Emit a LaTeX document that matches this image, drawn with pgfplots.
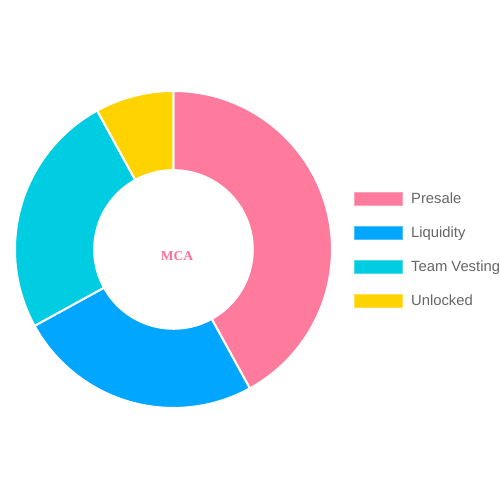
\documentclass[border=0pt]{standalone}
\usepackage{pgfplots}
\pgfplotsset{compat=1.18}
\usepackage{pgfplotstable}
\usepgfplotslibrary{fillbetween}
\usepackage{fontspec}
\setmainfont{Liberation Serif}
\newfontfamily\legfont{Liberation Sans}
\definecolor{cPre}{HTML}{FF7B9E}
\definecolor{cLiq}{HTML}{00A6FF}
\definecolor{cTeam}{HTML}{00CDE1}
\definecolor{cUnl}{HTML}{FFD300}
\definecolor{cMCA}{HTML}{FF7096}
\definecolor{cLeg}{HTML}{666666}

\pgfplotstableread{
label value
Presale 42
Liquidity 25
TeamVesting 25
Unlocked 8
}\piedata
\pgfplotstablegetelem{0}{value}\of\piedata \let\vA\pgfplotsretval
\pgfplotstablegetelem{1}{value}\of\piedata \let\vB\pgfplotsretval
\pgfplotstablegetelem{2}{value}\of\piedata \let\vC\pgfplotsretval
\pgfplotstablegetelem{3}{value}\of\piedata \let\vD\pgfplotsretval
\pgfmathsetmacro\tot{\vA+\vB+\vC+\vD}
\pgfmathsetmacro\aA{90}
\pgfmathsetmacro\aB{\aA-360*\vA/\tot}
\pgfmathsetmacro\aC{\aB-360*\vB/\tot}
\pgfmathsetmacro\aD{\aC-360*\vC/\tot}
\pgfmathsetmacro\aE{\aD-360*\vD/\tot}
\def\cx{173.5}
\def\cy{250.5}
\def\Ro{158.5}
\def\Ri{79.3}

\newcommand{\pieslice}[4]{%
  \addplot[draw=none, name path=o#4, domain=#2:#1, samples=150] ({\cx+\Ro*cos(x)},{\cy+\Ro*sin(x)});
  \addplot[draw=none, name path=i#4, domain=#2:#1, samples=100] ({\cx+\Ri*cos(x)},{\cy+\Ri*sin(x)});
  \addplot[fill=#3, draw=white, line width=2pt, line join=round] fill between[of=o#4 and i#4];
}

\begin{document}
\begin{tikzpicture}
\path (0,0) rectangle (500pt,500pt);
\begin{axis}[
  at={(0,0)}, anchor=south west,
  width=500pt, height=500pt, scale only axis,
  xmin=0, xmax=500, ymin=0, ymax=500,
  hide axis, clip=false,
]
\pieslice{\aA}{\aB}{cPre}{a}
\pieslice{\aB}{\aC}{cLiq}{b}
\pieslice{\aC}{\aD}{cTeam}{c}
\pieslice{\aD}{\aE}{cUnl}{d}

\node[text=cMCA, font=\fontsize{13.5}{15}\selectfont\bfseries] at (axis cs:177,244) {MCA};

% legend
\addplot[fill=cPre, draw=cPre!70!white, line width=0.6pt] coordinates {(354,307.5) (402,307.5) (402,294.5) (354,294.5)} -- cycle;
\addplot[fill=cLiq, draw=cLiq!70!white, line width=0.6pt] coordinates {(354,273.5) (402,273.5) (402,260.5) (354,260.5)} -- cycle;
\addplot[fill=cTeam, draw=cTeam!70!white, line width=0.6pt] coordinates {(354,240) (402,240) (402,227) (354,227)} -- cycle;
\addplot[fill=cUnl, draw=cUnl!70!white, line width=0.6pt] coordinates {(354,205.8) (402,205.8) (402,192.8) (354,192.8)} -- cycle;
\node[anchor=base west, inner sep=0pt, text=cLeg, font=\legfont\fontsize{14.8}{17}\selectfont] at (axis cs:411,296) {Presale};
\node[anchor=base west, inner sep=0pt, text=cLeg, font=\legfont\fontsize{14.8}{17}\selectfont] at (axis cs:411,262.5) {Liquidity};
\node[anchor=base west, inner sep=0pt, text=cLeg, font=\legfont\fontsize{14.8}{17}\selectfont] at (axis cs:411,228.8) {Team Vesting};
\node[anchor=base west, inner sep=0pt, text=cLeg, font=\legfont\fontsize{14.8}{17}\selectfont] at (axis cs:411,194.5) {Unlocked};
\end{axis}
\end{tikzpicture}
\end{document}
